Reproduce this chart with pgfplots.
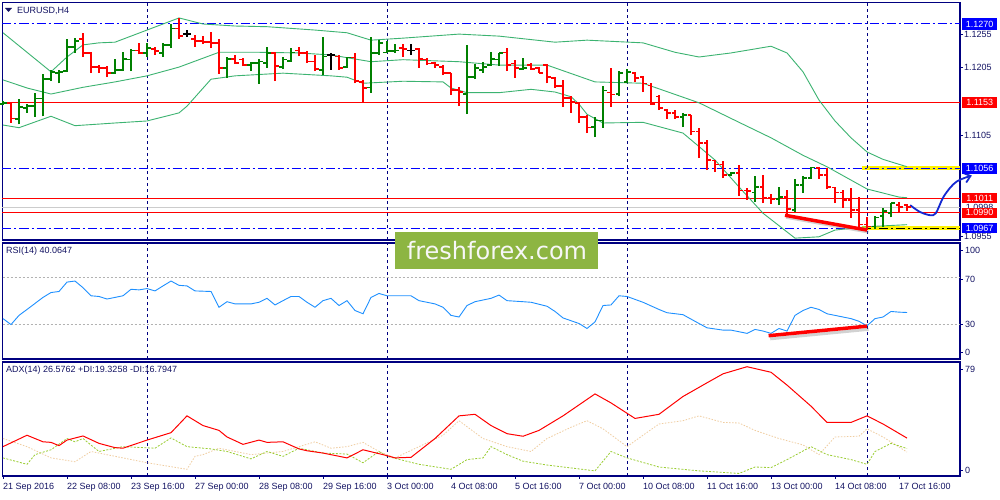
\documentclass[border=0pt]{standalone}
\usepackage{pgfplots}
\pgfplotsset{compat=1.18}
\usepackage{pgfplotstable}
\usetikzlibrary{arrows.meta}
\usepackage{fontspec}
\setmainfont{Liberation Sans}
\newfontfamily\wmfont{DejaVu Sans}
\definecolor{navyb}{RGB}{0,0,128}
\definecolor{txt}{RGB}{20,20,100}
\definecolor{upc}{RGB}{0,128,0}
\definecolor{dnc}{RGB}{255,0,0}
\definecolor{bbc}{RGB}{60,179,113}
\definecolor{rsic}{RGB}{30,144,255}
\definecolor{pdic}{RGB}{154,205,50}
\definecolor{mdic}{RGB}{240,205,160}
\definecolor{wmc}{RGB}{141,181,66}
\definecolor{hlb}{RGB}{0,0,255}
\definecolor{arrb}{RGB}{20,40,210}
\newcommand\lbl{\fontsize{9}{10}\selectfont}

\pgfplotstableread{
x o h l c
0 1.1151 1.1156 1.1150 1.1153
2 1.1129 1.1159 1.1121 1.1147
3 1.1145 1.1151 1.1138 1.1148
4 1.1148 1.1168 1.1132 1.1159
5 1.1159 1.1196 1.1133 1.1188
6 1.1188 1.1202 1.1185 1.1199
7 1.1197 1.1201 1.1182 1.1199
8 1.1200 1.1248 1.1199 1.1236
9 1.1236 1.1249 1.1227 1.1245
14 1.1197 1.1218 1.1196 1.1202
15 1.1202 1.1228 1.1200 1.1218
16 1.1217 1.1233 1.1200 1.1231
18 1.1227 1.1242 1.1221 1.1234
20 1.1227 1.1242 1.1221 1.1239
21 1.1239 1.1270 1.1234 1.1263
28 1.1205 1.1221 1.1190 1.1218
31 1.1209 1.1214 1.1200 1.1212
32 1.1212 1.1218 1.1181 1.1214
33 1.1212 1.1236 1.1205 1.1227
35 1.1206 1.1221 1.1203 1.1217
36 1.1215 1.1234 1.1214 1.1228
40 1.1202 1.1251 1.1194 1.1222
43 1.1206 1.1221 1.1205 1.1220
46 1.1176 1.1251 1.1168 1.1227
47 1.1227 1.1246 1.1224 1.1242
48 1.1228 1.1245 1.1227 1.1230
49 1.1230 1.1240 1.1227 1.1231
58 1.1166 1.1239 1.1136 1.1191
59 1.1191 1.1211 1.1188 1.1205
60 1.1202 1.1214 1.1197 1.1206
61 1.1209 1.1228 1.1208 1.1218
62 1.1217 1.1227 1.1208 1.1227
65 1.1203 1.1220 1.1202 1.1205
74 1.1117 1.1132 1.1102 1.1127
75 1.1127 1.1178 1.1116 1.1171
77 1.1166 1.1200 1.1163 1.1197
78 1.1184 1.1203 1.1182 1.1199
85 1.1132 1.1138 1.1117 1.1135
91 1.1046 1.1050 1.1044 1.1049
94 1.1020 1.1044 1.1006 1.1028
97 1.1010 1.1028 1.1001 1.1013
99 1.0994 1.1040 1.0991 1.1031
100 1.1031 1.1044 1.1019 1.1041
101 1.1041 1.1058 1.1040 1.1057
109 1.0969 1.0985 1.0966 1.0983
110 1.0985 1.0997 1.0969 1.0992
111 1.0989 1.1004 1.0983 1.1004
}\upbars

\pgfplotstableread{
x o h l c
23 1.1255 1.1261 1.1251 1.1255
41 1.1224 1.1227 1.1202 1.1224
51 1.1231 1.1240 1.1224 1.1231
}\dojibars

\pgfplotstableread{
x o h l c
1 1.1153 1.1154 1.1123 1.1130
10 1.1248 1.1257 1.1221 1.1227
11 1.1227 1.1228 1.1197 1.1206
12 1.1206 1.1209 1.1197 1.1205
13 1.1205 1.1208 1.1191 1.1197
17 1.1231 1.1242 1.1225 1.1227
19 1.1233 1.1236 1.1224 1.1230
22 1.1263 1.1279 1.1248 1.1252
24 1.1248 1.1254 1.1236 1.1245
25 1.1245 1.1252 1.1240 1.1243
26 1.1243 1.1258 1.1234 1.1242
27 1.1242 1.1248 1.1196 1.1205
29 1.1218 1.1224 1.1211 1.1212
30 1.1217 1.1220 1.1208 1.1209
34 1.1227 1.1228 1.1185 1.1208
37 1.1231 1.1236 1.1222 1.1227
38 1.1227 1.1230 1.1212 1.1214
39 1.1214 1.1224 1.1200 1.1203
42 1.1222 1.1224 1.1202 1.1205
44 1.1220 1.1227 1.1182 1.1185
45 1.1184 1.1187 1.1153 1.1175
50 1.1234 1.1240 1.1221 1.1233
52 1.1233 1.1234 1.1205 1.1218
53 1.1217 1.1220 1.1209 1.1211
54 1.1212 1.1214 1.1205 1.1209
55 1.1206 1.1209 1.1194 1.1197
56 1.1197 1.1197 1.1165 1.1172
57 1.1172 1.1176 1.1148 1.1169
63 1.1228 1.1234 1.1200 1.1209
64 1.1211 1.1217 1.1190 1.1205
66 1.1209 1.1212 1.1202 1.1203
67 1.1205 1.1206 1.1197 1.1197
68 1.1209 1.1211 1.1182 1.1191
69 1.1190 1.1191 1.1175 1.1178
70 1.1178 1.1187 1.1147 1.1160
71 1.1160 1.1163 1.1138 1.1154
72 1.1153 1.1153 1.1123 1.1132
73 1.1132 1.1135 1.1108 1.1116
76 1.1168 1.1205 1.1147 1.1165
79 1.1197 1.1199 1.1184 1.1190
80 1.1191 1.1193 1.1169 1.1182
81 1.1179 1.1182 1.1150 1.1151
82 1.1162 1.1165 1.1142 1.1145
83 1.1142 1.1144 1.1129 1.1138
84 1.1138 1.1142 1.1129 1.1132
86 1.1135 1.1135 1.1105 1.1110
87 1.1110 1.1116 1.1071 1.1093
88 1.1093 1.1098 1.1053 1.1068
89 1.1067 1.1068 1.1050 1.1061
90 1.1061 1.1067 1.1041 1.1046
92 1.1049 1.1061 1.1015 1.1023
93 1.1023 1.1027 1.1009 1.1022
95 1.1028 1.1046 1.1004 1.1012
96 1.1012 1.1017 1.1003 1.1010
98 1.1013 1.1023 1.0986 1.0995
102 1.1056 1.1058 1.1040 1.1046
103 1.1046 1.1056 1.1025 1.1028
104 1.1027 1.1028 1.1004 1.1020
105 1.1020 1.1023 1.0997 1.1009
106 1.1009 1.1027 1.0982 1.0994
107 1.0994 1.1013 1.0969 1.0972
108 1.0972 1.0983 1.0964 1.0969
112 1.1001 1.1006 1.0989 1.0998
113 1.1001 1.1003 1.0992 1.0998
}\downbars

\pgfplotsset{
  panel/.style={scale only axis, width=957.5pt, xmin=-0.0625, xmax=119.625, anchor=north west,
    axis line style={navyb, line width=1.2pt}, tick style={navyb, line width=0.8pt},
    tick align=outside, major tick length=3pt, xtick=\empty, ytick pos=right, clip=false},
  ohlcv/.style={draw=none, mark=none, error bars/.cd, y dir=plus, y explicit,
    error mark=none, error bar style={draw=#1, line width=1.5pt, solid}},
  ohlct/.style={only marks, mark=-, mark size=1.75pt, color=#1, mark options={color=#1, line width=1.5pt, solid}},
  vdash/.style={navyb, line width=0.9pt, dash pattern=on 3pt off 3pt},
  dashdot/.style={line width=1pt, dash pattern=on 9pt off 3pt on 2pt off 3pt},
}

\begin{document}
\begin{tikzpicture}
\path[use as bounding box] (0,0) rectangle (1000pt,-500pt);
\fill[white] (0,0) rectangle (1000pt,-500pt);

% ---------------- main price panel ----------------
\begin{axis}[panel, at={(2.5pt,-2.5pt)}, height=237.5pt, ymin=1.094924, ymax=1.130193,
  scaled y ticks=false,
  ytick={1.0955,1.1105,1.1205,1.1255},
  yticklabel style={font=\lbl, text=txt, inner sep=0pt, anchor=west, xshift=1pt,
    /pgf/number format/fixed, /pgf/number format/fixed zerofill,
    /pgf/number format/precision=4, /pgf/number format/assume math mode=true}]
  % horizontal levels
  \addplot[gray!40, line width=1pt] coordinates {(-0.0625,1.0998) (119.625,1.0998)};
  \addplot[yellow, line width=4pt] coordinates {(107.4,1.1056) (119.625,1.1056)};
  \addplot[yellow, line width=4pt] coordinates {(107.4,1.0967) (119.625,1.0967)};
  \addplot[hlb, dashdot] coordinates {(-0.0625,1.1270) (119.625,1.1270)};
  \addplot[hlb, dashdot] coordinates {(-0.0625,1.1056) (119.625,1.1056)};
  \addplot[hlb, dashdot] coordinates {(-0.0625,1.0967) (107.4,1.0967)};
  \addplot[black, dashdot] coordinates {(107.4,1.0967) (119.625,1.0967)};
  \addplot[dnc, line width=1.1pt] coordinates {(-0.0625,1.1153) (119.625,1.1153)};
  \addplot[dnc, line width=1.1pt] coordinates {(-0.0625,1.1011) (119.625,1.1011)};
  \addplot[dnc, line width=1.1pt] coordinates {(-0.0625,1.0990) (119.625,1.0990)};
  % period separators
  \addplot[vdash] coordinates {(18,1.094924) (18,1.130193)};
  \addplot[vdash] coordinates {(48,1.094924) (48,1.130193)};
  \addplot[vdash] coordinates {(78,1.094924) (78,1.130193)};
  \addplot[vdash] coordinates {(108,1.094924) (108,1.130193)};
  % Bollinger bands
  \addplot[bbc, line width=0.9pt] coordinates {(0,1.1257)(3,1.1228)(6,1.1199)(8,1.1221)(10,1.1239)(12,1.1242)(14,1.1243)(18,1.1261)(22,1.1279)(25,1.1270)(29,1.1267)(33,1.1266)(39,1.1261)(43,1.1257)(46,1.1246)(50,1.1249)(57,1.1255)(62,1.1252)(69,1.1243)(73,1.1246)(80,1.1242)(84,1.1228)(87,1.1221)(91,1.1227)(96,1.1237)(98,1.1227)(100,1.1199)(102,1.1157)(104,1.1126)(106,1.1101)(108,1.1080)(110,1.1069)(113,1.1058)};
  \addplot[bbc, line width=0.9pt] coordinates {(0,1.1187)(3,1.1175)(6,1.1166)(10,1.1176)(14,1.1184)(18,1.1193)(22,1.1206)(27,1.1228)(32,1.1228)(37,1.1227)(41,1.1224)(46,1.1214)(50,1.1217)(57,1.1214)(62,1.1209)(68,1.1209)(74,1.1184)(80,1.1182)(87,1.1153)(92,1.1124)(96,1.1101)(100,1.1075)(103,1.1058)(108,1.1025)(112,1.1013)(113,1.1012)};
  \addplot[bbc, line width=0.9pt] coordinates {(0,1.1120)(2,1.1116)(6,1.1133)(9,1.1119)(14,1.1123)(18,1.1126)(22,1.1138)(23,1.1148)(26,1.1188)(29,1.1193)(35,1.1197)(41,1.1193)(43,1.1191)(45,1.1182)(50,1.1185)(55,1.1184)(56,1.1175)(58,1.1168)(62,1.1168)(66,1.1173)(69,1.1169)(71,1.1162)(72,1.1151)(73,1.1136)(75,1.1123)(80,1.1124)(85,1.1108)(89,1.1068)(92,1.1028)(95,1.0989)(99,1.0952)(102,1.0954)(104,1.0964)(108,1.0969)(113,1.0972)};
  % OHLC bars
  \addplot[ohlcv=upc] table[x=x, y=l, y error plus expr=\thisrow{h}-\thisrow{l}] {\upbars};
  \addplot[ohlct=upc] table[x expr=\thisrow{x}-0.22, y=o] {\upbars};
  \addplot[ohlct=upc] table[x expr=\thisrow{x}+0.22, y=c] {\upbars};
  \addplot[ohlcv=dnc] table[x=x, y=l, y error plus expr=\thisrow{h}-\thisrow{l}] {\downbars};
  \addplot[ohlct=dnc] table[x expr=\thisrow{x}-0.22, y=o] {\downbars};
  \addplot[ohlct=dnc] table[x expr=\thisrow{x}+0.22, y=c] {\downbars};
  \addplot[ohlcv=black] table[x=x, y=l, y error plus expr=\thisrow{h}-\thisrow{l}] {\dojibars};
  \addplot[ohlct=black] table[x expr=\thisrow{x}-0.22, y=o] {\dojibars};
  \addplot[ohlct=black] table[x expr=\thisrow{x}+0.22, y=c] {\dojibars};
  % annotations
  \addplot[gray, opacity=0.35, line width=3pt] coordinates {(97.9,1.0983) (108.2,1.0961)};
  \addplot[dnc, line width=3.5pt] coordinates {(97.75,1.0986) (108,1.0964)};
  \addplot[arrb, line width=1.8pt, smooth, -{Straight Barb[length=6pt,width=10pt]}] coordinates {(113.4,1.1001)(114.6,1.0991)(115.9,1.0986)(116.6,1.0989)(117.5,1.1012)(118.4,1.1027)(119.2,1.1036)(120.1,1.1041)(121.1,1.1045)};
  % price labels
  \node[fill=hlb, text=white, font=\lbl, anchor=west, inner sep=0pt, minimum width=35pt, minimum height=11pt, xshift=2pt] at (axis cs:119.625,1.1270) {1.1270};
  \node[fill=dnc, text=white, font=\lbl, anchor=west, inner sep=0pt, minimum width=35pt, minimum height=11pt, xshift=2pt] at (axis cs:119.625,1.1153) {1.1153};
  \node[fill=hlb, text=white, font=\lbl, anchor=west, inner sep=0pt, minimum width=35pt, minimum height=11pt, xshift=2pt] at (axis cs:119.625,1.1056) {1.1056};
  \node[fill=white, text=txt, font=\lbl, anchor=west, inner sep=0pt, minimum width=35pt, minimum height=10pt, xshift=2pt] at (axis cs:119.625,1.0998) {1.0998};
  \node[fill=dnc, text=white, font=\lbl, anchor=west, inner sep=0pt, minimum width=35pt, minimum height=10pt, xshift=2pt] at (axis cs:119.625,1.1011) {1.1011};
  \node[fill=dnc, text=white, font=\lbl, anchor=west, inner sep=0pt, minimum width=35pt, minimum height=10pt, xshift=2pt] at (axis cs:119.625,1.0990) {1.0990};
  \node[fill=hlb, text=white, font=\lbl, anchor=west, inner sep=0pt, minimum width=35pt, minimum height=10pt, xshift=2pt] at (axis cs:119.625,1.0967) {1.0967};
\end{axis}

% ---------------- RSI panel ----------------
\begin{axis}[panel, at={(2.5pt,-243pt)}, height=116pt, ymin=0, ymax=100, ytick=\empty]
  \addplot[gray!60, line width=0.8pt, dash pattern=on 2pt off 2pt] coordinates {(-0.0625,70) (119.625,70)};
  \addplot[gray!60, line width=0.8pt, dash pattern=on 2pt off 2pt] coordinates {(-0.0625,30) (119.625,30)};
  \addplot[vdash] coordinates {(18,0) (18,100)};
  \addplot[vdash] coordinates {(48,0) (48,100)};
  \addplot[vdash] coordinates {(78,0) (78,100)};
  \addplot[vdash] coordinates {(108,0) (108,100)};
  \addplot[rsic, line width=0.9pt] coordinates {(0,34.8)(1,29.7)(2,37.6)(3,42.7)(5,53.1)(6,57.3)(7,58.2)(8,66.3)(9,67.2)(10,61.5)(11,54.5)(12,53.9)(13,51.7)(15,54.5)(16,60.1)(17,59.6)(18,60.7)(19,58.7)(20,63)(21,67.2)(22,63.5)(23,63)(24,58.7)(26,58.2)(27,44.6)(28,49.4)(29,47.5)(31,47.5)(32,48.9)(33,52.3)(34,46.6)(35,50.3)(36,53.9)(37,53.9)(38,48.9)(39,44.6)(40,50.3)(41,52.3)(42,46.1)(43,50.3)(44,41.8)(45,39)(46,53.1)(47,56.5)(48,54.5)(51,54.5)(52,50.3)(54,47.5)(55,44.6)(56,37.6)(57,36.2)(58,46.1)(59,49.4)(61,52.3)(62,55.1)(63,50.3)(65,49.4)(66,48.9)(68,45.5)(69,41)(70,35.4)(72,30.6)(73,26.3)(74,32)(75,46.1)(76,46.6)(77,54.5)(78,53.9)(80,48.9)(82,42.7)(83,39.9)(85,38.2)(87,30.6)(88,26.9)(90,24.9)(91,24.9)(92,23.5)(93,22.1)(94,25.5)(95,24.1)(96,22.1)(97,26.3)(98,24.1)(99,37.6)(100,41.8)(101,44.6)(102,42.7)(103,39)(104,37.6)(106,34.8)(107,32.5)(108,28.6)(109,34.8)(110,36.2)(111,41)(112,40.4)(113,40.1)};
  \addplot[gray, opacity=0.35, line width=3pt] coordinates {(95.9,17.4) (108.2,25.6)};
  \addplot[dnc, line width=3.5pt] coordinates {(95.7,20.1) (108,28.3)};
\end{axis}

% ---------------- ADX panel ----------------
\begin{axis}[panel, at={(2.5pt,-362pt)}, height=114pt, ymin=0, ymax=80, ytick=\empty,
  xtick={0,8,...,112}, xtick pos=bottom,
  xticklabels={21 Sep 2016,22 Sep 08:00,23 Sep 16:00,27 Sep 00:00,28 Sep 08:00,29 Sep 16:00,3 Oct 00:00,4 Oct 08:00,5 Oct 16:00,7 Oct 00:00,10 Oct 08:00,11 Oct 16:00,13 Oct 00:00,14 Oct 08:00,17 Oct 16:00},
  xticklabel style={font=\lbl, text=txt, anchor=north west, inner sep=0pt, yshift=-4pt}]
  \addplot[vdash] coordinates {(18,0) (18,80)};
  \addplot[vdash] coordinates {(48,0) (48,80)};
  \addplot[vdash] coordinates {(78,0) (78,80)};
  \addplot[vdash] coordinates {(108,0) (108,80)};
  \addplot[mdic, line width=0.8pt, dash pattern=on 1.5pt off 1.5pt] coordinates {(0,26.3)(3,20.6)(6,12.7)(9,10)(11,17.2)(15,12.7)(18,9.3)(23,4.7)(24,13.8)(25,15)(27,19.5)(31,15)(35,17.2)(39,24)(41,19.5)(43,20.6)(45,23.6)(47,17.2)(49,12.7)(52,20.6)(55,28.6)(57,38.8)(60,26.3)(63,20.6)(66,17.2)(68,26.3)(71,34.2)(73,38.8)(75,33.1)(78,20.6)(80,28.6)(82,36.5)(85,38.8)(87,42.2)(90,37.6)(92,37.2)(94,32)(97,26.3)(100,21.8)(102,15)(104,27.4)(107,27.9)(108,33.1)(110,27.4)(113,16.8)};
  \addplot[pdic, line width=0.8pt, dash pattern=on 2pt off 1.5pt] coordinates {(0,12.7)(3,8.2)(4,15)(6,18.4)(8,26.3)(9,24)(10,26.3)(12,17.2)(15,20.6)(19,19.5)(21,26.7)(23,20.6)(26,19)(28,17.2)(31,12)(33,17.2)(35,13.8)(37,19.5)(40,16.1)(43,15.4)(45,9.3)(47,17.2)(48,13.8)(52,8.2)(56,4.7)(58,11.5)(60,12.7)(61,20.6)(63,15)(65,10.4)(68,7.7)(74,3.6)(76,17.2)(78,12.7)(82,6.3)(87,3.6)(92,1.8)(94,6.3)(96,5.9)(98,11.5)(101,20.6)(103,15)(106,11.5)(108,8.2)(109,17.2)(111,22.9)(113,19.3)};
  \addplot[dnc, line width=1pt] coordinates {(0,20.6)(3,28.6)(5,24)(6,23.6)(7,21.3)(8,25.2)(10,28.1)(12,22.9)(14,19.9)(15,19.5)(18,25.2)(21,30.4)(23,42.2)(25,35.4)(27,32)(28,27.4)(30,22.2)(32,25.2)(33,23.6)(35,24)(37,19)(38,17.7)(40,16.1)(43,12.7)(45,18.4)(48,14.3)(49,12.7)(51,13.1)(54,26.3)(57,42.2)(59,43.3)(61,35.4)(63,29.7)(65,27.9)(67,32)(70,42.2)(74,57.6)(76,51.3)(79,40.4)(82,43.3)(85,55.8)(88,65.4)(90,71.7)(93,76.7)(96,72.8)(98,63.8)(101,49)(103,37.6)(106,37.6)(108,42.2)(110,36.5)(113,26.6)};
\end{axis}

% ---------------- texts ----------------
\fill[txt] (5pt,-8pt) -- (12pt,-8pt) -- (8.5pt,-12pt) -- cycle;
\node[anchor=west, inner sep=0pt, font=\lbl, text=txt] at (17pt,-10.5pt) {EURUSD,H4};
\node[anchor=west, inner sep=0pt, font=\lbl, text=txt] at (6pt,-251.5pt) {RSI(14) 40.0647};
\node[anchor=west, inner sep=0pt, font=\lbl, text=txt] at (6pt,-370.5pt) {ADX(14) 26.5762 +DI:19.3258 -DI:16.7947};
\foreach \yy/\tt in {250/100,279/70,324.5/30,352/0,369/79,470/0}{
  \draw[navyb, line width=0.8pt] (960pt,-\yy pt) -- (963pt,-\yy pt);
  \node[anchor=west, inner sep=0pt, font=\lbl, text=txt] at (965pt,-\yy pt) {\tt};
}
% watermark
\fill[wmc] (395pt,-232pt) rectangle (598pt,-269pt);
\node[inner sep=0pt, text=white!94!gray, font=\wmfont\fontsize{24}{24}\selectfont] at (497pt,-251pt) {freshforex.com};
\end{tikzpicture}
\end{document}
